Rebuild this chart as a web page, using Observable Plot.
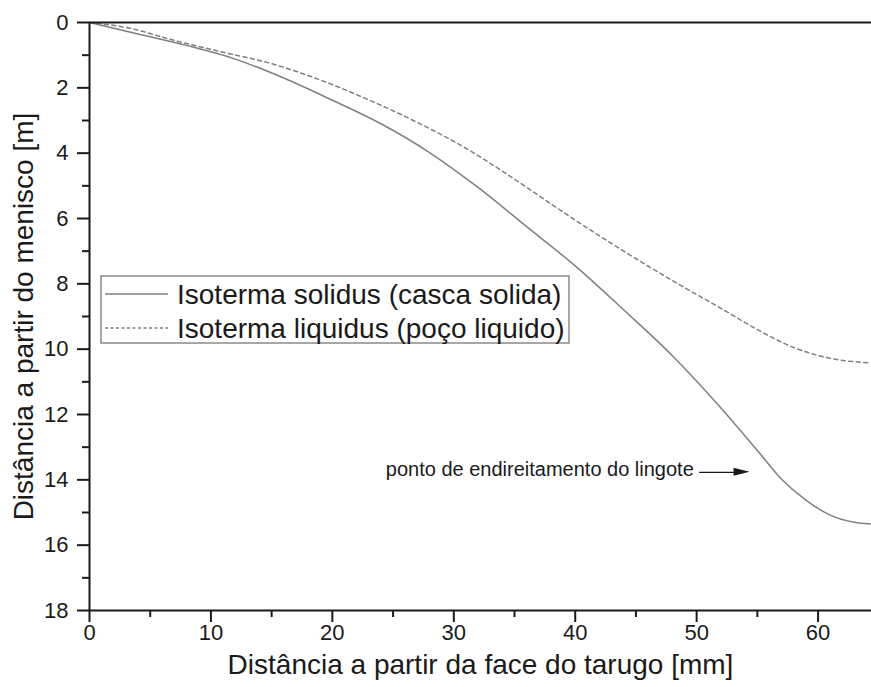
<!DOCTYPE html>
<html>
<head>
<meta charset="utf-8">
<script src="https://cdn.jsdelivr.net/npm/d3@7"></script>
<script src="https://cdn.jsdelivr.net/npm/@observablehq/plot@0.6"></script>
<style>
  html, body { margin: 0; padding: 0; background: #fff; }
  #chart svg { display: block; font-family: "Liberation Sans", Arial, sans-serif; }
</style>
</head>
<body>
<div id="chart"></div>
<script>
// ---- data ----
const solidX = [0, 4, 8, 12, 16, 20, 24, 28, 32, 36, 40, 44, 48, 52, 55, 57, 59, 61, 63, 64.3];
const solidY = [0, 0.35, 0.70, 1.12, 1.70, 2.38, 3.10, 3.98, 5.05, 6.25, 7.45, 8.80, 10.20, 11.80, 13.10, 13.98, 14.62, 15.08, 15.30, 15.35];
const liqX = [0, 3, 7, 11, 15, 19, 23, 27, 31, 34, 37, 40, 44, 48, 52, 55, 58, 61, 64.3];
const liqY = [0, 0.15, 0.55, 0.91, 1.26, 1.76, 2.37, 3.06, 3.85, 4.55, 5.30, 6.05, 7.00, 7.90, 8.75, 9.40, 9.95, 10.28, 10.42];
const seriesNames = ["Isoterma solidus (casca solida)", "Isoterma liquidus (poço liquido)"];
const xMajor = [0, 10, 20, 30, 40, 50, 60];
const xMinor = [5, 15, 25, 35, 45, 55];
const yMajor = [0, 2, 4, 6, 8, 10, 12, 14, 16, 18];
const yMinor = [1, 3, 5, 7, 9, 11, 13, 15, 17];
const xTitle = "Distância a partir da face do tarugo [mm]";
const yTitle = "Distância a partir do menisco [m]";
const noteText = "ponto de endireitamento do lingote";
const noteX = 24.4, noteY = 13.68;
const arrowX1 = 50.2, arrowX2 = 54.4, arrowY = 13.77;

const solid = solidX.map((x, i) => ({x, y: solidY[i]}));
const liq = liqX.map((x, i) => ({x, y: liqY[i]}));

const axisColor = "#1a1a1a";
const lineColor = "#808080";

const plot = Plot.plot({
  width: 871,
  height: 687,
  marginLeft: 89,
  marginRight: 0,
  marginTop: 22,
  marginBottom: 77,
  style: {fontFamily: "'Liberation Sans', Arial, sans-serif", color: axisColor, background: "#fff"},
  x: {domain: [0, 64.4]},
  y: {domain: [0, 18], reverse: true},
  marks: [
    Plot.line(solid, {x: "x", y: "y", stroke: lineColor, strokeWidth: 1.5, curve: "monotone-x"}),
    Plot.line(liq, {x: "x", y: "y", stroke: lineColor, strokeWidth: 1.5, strokeDasharray: "4,3.5", curve: "monotone-x"}),
    Plot.ruleX([0], {stroke: axisColor, strokeWidth: 2}),
    Plot.ruleY([0, 18], {stroke: axisColor, strokeWidth: 2}),
    Plot.axisX(xMajor, {tickSize: 12, tickPadding: 2, fontSize: 22, strokeWidth: 2, stroke: axisColor, fill: axisColor, label: null}),
    Plot.axisX(xMinor, {tickSize: 7, tickFormat: () => "", strokeWidth: 2, stroke: axisColor, label: null}),
    Plot.axisY(yMajor, {tickSize: 12, tickPadding: 9, fontSize: 22, strokeWidth: 2, stroke: axisColor, fill: axisColor, label: null}),
    Plot.axisY(yMinor, {tickSize: 7, tickFormat: () => "", strokeWidth: 2, stroke: axisColor, label: null}),
    Plot.text([xTitle], {frameAnchor: "bottom", dy: 63, fontSize: 28, fill: axisColor, textAnchor: "middle"}),
    Plot.text([yTitle], {frameAnchor: "left", dx: -65, rotate: -90, fontSize: 28, fill: axisColor, textAnchor: "middle"}),
    Plot.text([noteText], {x: () => noteX, y: () => noteY, textAnchor: "start", fontSize: 20, fill: axisColor}),
    Plot.link([{x1: arrowX1, x2: arrowX2 - 1.1, y: arrowY}], {x1: "x1", x2: "x2", y1: "y", y2: "y", stroke: axisColor, strokeWidth: 1.2})
  ]
});

document.getElementById("chart").appendChild(plot);

// arrowhead (filled triangle) and legend, positioned through the plot's scales
const svg = d3.select(plot);
const sx = plot.scale("x"), sy = plot.scale("y");
const ax = sx.apply(arrowX2), ay = sy.apply(arrowY);
svg.append("path")
  .attr("d", `M${ax},${ay} L${ax - 16},${ay - 4} L${ax - 16},${ay + 4} Z`)
  .attr("fill", axisColor);

const lg = svg.append("g").attr("transform", "translate(101,276)");
lg.append("rect").attr("width", 468).attr("height", 67)
  .attr("fill", "#fff").attr("stroke", "#8a8a8a").attr("stroke-width", 1.5);
const rows = [{dash: null, y: 18}, {dash: "3,2.5", y: 52}];
rows.forEach((r, i) => {
  const ln = lg.append("line").attr("x1", 4).attr("x2", 67).attr("y1", r.y).attr("y2", r.y)
    .attr("stroke", lineColor).attr("stroke-width", 1.5);
  if (r.dash) ln.attr("stroke-dasharray", r.dash);
  lg.append("text").attr("x", 76).attr("y", r.y).attr("dy", "0.35em")
    .attr("text-anchor", "start")
    .attr("font-size", 28).attr("fill", axisColor)
    .attr("font-family", "'Liberation Sans', Arial, sans-serif")
    .text(seriesNames[i]);
});
</script>
</body>
</html>
